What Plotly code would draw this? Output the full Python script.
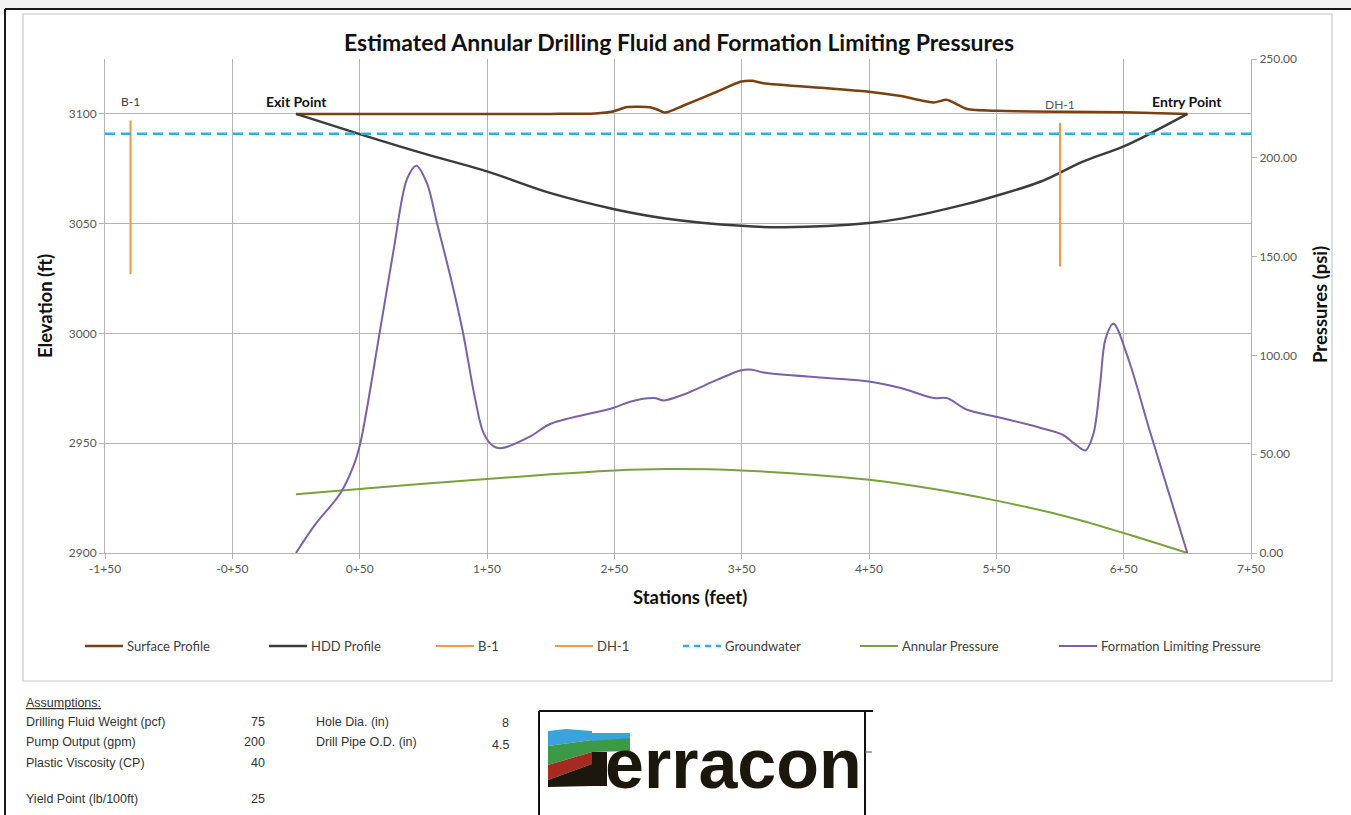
import plotly.graph_objects as go

# ── data ────────────────────────────────────────────────────────────────
station_ticks = [-150, -50, 50, 150, 250, 350, 450, 550, 650, 750]
station_labels = ["-1+50", "-0+50", "0+50", "1+50", "2+50", "3+50",
                  "4+50", "5+50", "6+50", "7+50"]
elev_ticks = [2900, 2950, 3000, 3050, 3100]
psi_ticks = [0, 50, 100, 150, 200, 250]

surface_x = [0, 100, 200, 235, 249, 260, 278, 284, 290, 304, 331, 349, 358,
             367, 417, 450, 475, 501, 511, 527, 551, 600, 650, 700]
surface_y = [3100.0, 3100.0, 3100.0, 3100.2, 3101.1, 3103.1, 3103.0, 3101.9,
             3100.6, 3103.7, 3110.2, 3114.6, 3115.1, 3114.0, 3111.7, 3110.1,
             3108.1, 3105.2, 3106.4, 3102.2, 3101.4, 3101.0, 3100.8, 3100.0]

hdd_x = [0, 50, 100, 150, 200, 250, 290, 350, 383, 450, 475, 527, 550, 585,
         618, 650, 674, 700]
hdd_y = [3100.0, 3090.8, 3082.0, 3073.8, 3063.9, 3056.6, 3052.4, 3049.0,
         3048.4, 3050.3, 3052.3, 3059.0, 3062.7, 3069.2, 3078.3, 3085.2,
         3092.0, 3100.0]

b1_x = [-130, -130]
b1_y = [3097, 3027]
dh1_x = [600, 600]
dh1_y = [3096, 3030.5]

gw_x = [-150, 750]
gw_y = [3091, 3091]

annular_x = [0, 50, 100, 150, 200, 250, 291, 350, 450, 500, 550, 605, 650, 700]
annular_y = [29.7, 32.4, 35.0, 37.4, 39.8, 41.8, 42.5, 41.8, 37.1, 32.5,
             26.5, 18.5, 10.1, 0.0]

formation_x = [0, 14, 35, 45, 50.6, 65.7, 76.7, 87, 94.5, 102.9, 110.7,
               122.5, 131.2, 140.8, 147.3, 155.2, 161.8, 184, 200, 249, 263,
               281, 289, 304, 331, 349, 358, 367, 417, 450, 475, 501, 511,
               527, 551, 585, 602, 611, 620, 626.4, 631.6, 635.6, 642, 653.9,
               671, 700]
formation_y = [0, 13.5, 30.4, 43.8, 55.8, 111.5, 153.5, 189, 196, 187, 167,
               136.6, 111.3, 77.6, 60.7, 54, 53.1, 59, 65.4, 73.4, 76.7, 78.4,
               77.2, 80.1, 87.7, 92.4, 92.8, 91.4, 88.6, 86.8, 83.5, 78.4,
               78.4, 72.5, 68.8, 63.3, 59.9, 55.5, 51.9, 60.7, 86, 108, 116,
               97.8, 60.7, 0]

assumption_labels = ["Drilling Fluid Weight (pcf)", "Pump Output (gpm)",
                     "Plastic Viscosity (CP)", "Yield Point (lb/100ft)"]
assumption_values = ["75", "200", "40", "25"]
hole_labels = ["Hole Dia. (in)", "Drill Pipe O.D. (in)"]
hole_values = ["8", "4.5"]

# ── styling ─────────────────────────────────────────────────────────────
FONT = "Lato, 'Open Sans', sans-serif"
GRID = "#b5b5b5"
TICK_FONT = dict(family=FONT, size=12, color="#595959")
SMALL = dict(family="Liberation Sans, Arial", size=12.5, color="#333")
W, H = 1351, 815
L, R, T, B = 105, 1251, 59, 553   # plot-area pixel box
LEGEND_LEFT = [85, 269, 436, 555, 683, 860, 1059]   # Excel-style spacing
LEGEND_Y = 646


def px(x):
    return (x - L) / (R - L)


def py(y):
    return (B - y) / (B - T)


fig = go.Figure()
fig.add_trace(go.Scatter(x=surface_x, y=surface_y, name="Surface Profile",
                         mode="lines", line=dict(color="#7b3f10", width=2.5,
                                                 shape="spline", smoothing=0.6)))
fig.add_trace(go.Scatter(x=hdd_x, y=hdd_y, name="HDD Profile", mode="lines",
                         line=dict(color="#3c3c3c", width=2.5, shape="spline")))
fig.add_trace(go.Scatter(x=b1_x, y=b1_y, name="B-1", mode="lines",
                         line=dict(color="#f79646", width=2)))
fig.add_trace(go.Scatter(x=dh1_x, y=dh1_y, name="DH-1", mode="lines",
                         line=dict(color="#f79646", width=2)))
fig.add_trace(go.Scatter(x=gw_x, y=gw_y, name="Groundwater", mode="lines",
                         line=dict(color="#1fb4ee", width=2.5, dash="10px,6px")))
fig.add_trace(go.Scatter(x=annular_x, y=annular_y, name="Annular Pressure",
                         mode="lines", yaxis="y2",
                         line=dict(color="#77a23c", width=2, shape="spline")))
fig.add_trace(go.Scatter(x=formation_x, y=formation_y,
                         name="Formation Limiting Pressure", mode="lines",
                         yaxis="y2",
                         line=dict(color="#7d60a8", width=2, shape="spline",
                                   smoothing=0.9)))

ann = [
    dict(text="<b>Estimated Annular Drilling Fluid and Formation Limiting Pressures</b>",
         x=px(679), y=py(42), font=dict(family=FONT, size=23, color="#111")),
    dict(text="<b>Elevation (ft)</b>", x=px(45), y=py(306), textangle=-90,
         font=dict(family=FONT, size=18.5, color="#111")),
    dict(text="<b>Pressures (psi)</b>", x=px(1320), y=py(305), textangle=-90,
         font=dict(family=FONT, size=18.5, color="#111")),
    dict(text="<b>Stations (feet)</b>", x=px(690), y=py(597),
         font=dict(family=FONT, size=18.5, color="#111")),
    dict(text="<u>Assumptions:</u>", x=px(24), y=py(703), xanchor="left", font=SMALL),
]
for lab, val, yy in zip(assumption_labels, assumption_values, [722, 742, 763, 799]):
    ann.append(dict(text=lab, x=px(24), y=py(yy), xanchor="left", font=SMALL))
    ann.append(dict(text=val, x=px(267), y=py(yy), xanchor="right", font=SMALL))
for lab, val, yy, yv in zip(hole_labels, hole_values, [722, 742], [723, 745]):
    ann.append(dict(text=lab, x=px(314), y=py(yy), xanchor="left", font=SMALL))
    ann.append(dict(text=val, x=px(511), y=py(yv), xanchor="right", font=SMALL))
# logo wordmark
ann.append(dict(text="<b>erracon</b>", x=px(603), y=py(764), xanchor="left",
                font=dict(family="Liberation Sans, Arial", size=70, color="#1c170c")))


def hline(x0, x1, y, color="#111", width=2, dash=None):
    return dict(type="line", xref="paper", yref="paper", x0=px(x0), x1=px(x1),
                y0=py(y), y1=py(y), line=dict(color=color, width=width, dash=dash))


def vline(x, y0, y1, color="#111", width=2):
    return dict(type="line", xref="paper", yref="paper", x0=px(x), x1=px(x),
                y0=py(y0), y1=py(y1), line=dict(color=color, width=width))


def rect(x0, y0, x1, y1, **kw):
    return dict(type="rect", xref="paper", yref="paper",
                x0=px(x0), x1=px(x1), y0=py(y1), y1=py(y0), **kw)


def poly(points, color):
    p = "M " + " L ".join(f"{px(a)},{py(b)}" for a, b in points) + " Z"
    return dict(type="path", xref="paper", yref="paper", path=p,
                fillcolor=color, line=dict(width=0), layer="above")


# Excel-like legend row, built from the traces themselves
legend_shapes = []
for tr, x0 in zip(fig.data, LEGEND_LEFT):
    legend_shapes.append(hline(x0, x0 + 38, LEGEND_Y, tr.line.color,
                               tr.line.width, "6px,5px" if tr.line.dash else None))
    ann.append(dict(text=tr.name, x=px(x0 + 40), y=py(LEGEND_Y), xanchor="left",
                    font=dict(family=FONT, size=13, color="#404040")))

for a in ann:
    a.update(xref="paper", yref="paper", showarrow=False)
    a.setdefault("xanchor", "center")
    a.setdefault("yanchor", "middle")

# point labels tied to the data
ann += [
    dict(x=0, y=3100, text="<b>Exit Point</b>", yanchor="bottom", yshift=2,
         font=dict(family=FONT, size=14, color="#111")),
    dict(x=700, y=3100, text="<b>Entry Point</b>", yanchor="bottom", yshift=2,
         font=dict(family=FONT, size=14, color="#111")),
    dict(x=-130, y=3100, text="B-1", yanchor="bottom", yshift=3,
         font=dict(family=FONT, size=12, color="#404040")),
    dict(x=600, y=3100, text="DH-1", yanchor="bottom", yshift=0,
         font=dict(family=FONT, size=12, color="#595959")),
]
for a in ann[-4:]:
    a.update(xref="x", yref="y", showarrow=False)

shapes = [
    rect(0, 0, W, 9, fillcolor="#f3f3f3", line=dict(width=0), layer="below"),
    rect(23, 14, 1332, 681, line=dict(color="#c8c8c8", width=1.2), layer="below"),
    hline(5, W, 9, "#1a1a1a"),
    vline(5, 9, H, "#1a1a1a"),
    # logo frame
    hline(539, 873, 711),
    vline(539, 711, H),
    vline(865, 711, H),
    hline(865, 872, 752, "#555", 1),
    # logo landscape "T"
    poly([(548, 731), (566, 729), (592, 731), (592, 740), (548, 746)], "#3aa3dc"),
    poly([(548, 746), (592, 740), (592, 752), (548, 765)], "#3c9a46"),
    poly([(548, 765), (592, 752), (592, 764), (548, 780)], "#a52a22"),
    poly([(548, 780), (592, 764), (592, 786), (548, 787)], "#1c170c"),
    poly([(592, 733), (630, 733), (630, 741), (592, 741)], "#3aa3dc"),
    poly([(592, 741), (630, 738), (630, 751), (592, 752)], "#3c9a46"),
    poly([(592, 752), (607, 752), (607, 786), (592, 786)], "#1c170c"),
] + legend_shapes

axis_common = dict(showgrid=True, gridcolor=GRID, gridwidth=1, zeroline=False,
                   ticks="outside", ticklen=5, tickcolor=GRID, tickfont=TICK_FONT,
                   showline=True, linecolor=GRID, linewidth=1)

fig.update_layout(
    width=W, height=H,
    margin=dict(l=L, r=W - R, t=T, b=H - B, pad=0),
    paper_bgcolor="white", plot_bgcolor="white",
    xaxis=dict(range=[-150, 750], tickvals=station_ticks, ticktext=station_labels,
               **axis_common),
    yaxis=dict(range=[2900, 3125], tickvals=elev_ticks, **axis_common),
    yaxis2=dict(range=[0, 250], tickvals=psi_ticks,
                ticktext=[f"{v:.2f}" for v in psi_ticks],
                overlaying="y", side="right", showgrid=False, zeroline=False,
                ticks="outside", ticklen=5, tickcolor=GRID, tickfont=TICK_FONT,
                showline=True, linecolor=GRID, linewidth=1),
    showlegend=False,
    annotations=ann,
    shapes=shapes,
)

fig.write_html("out.html", config={"displayModeBar": False},
               post_script="document.body.style.margin='0';")
